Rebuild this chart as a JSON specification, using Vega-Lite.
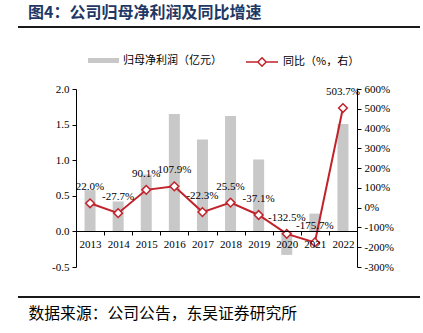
{
  "$schema": "https://vega.github.io/schema/vega-lite/v6.json",
  "width": 402,
  "height": 270,
  "autosize": {"type": "none"},
  "padding": {"left": 18, "top": 27, "right": 3, "bottom": 36},
  "background": "white",
  "view": {"stroke": "#1a1a1a", "strokeWidth": 2, "strokeDash": [402, 270]},
  "config": {
    "locale": {
      "number": {"decimal": ".", "thousands": ",", "grouping": [3], "currency": ["$", ""], "minus": "-"}
    },
    "axis": {"labelOverlap": false}
  },
  "title": {
    "text": "图4：公司归母净利润及同比增速",
    "anchor": "start",
    "frame": "group",
    "offset": 6,
    "dx": 10,
    "font": "Noto Sans CJK SC",
    "fontSize": 16,
    "fontWeight": "bold",
    "color": "#1f3864"
  },
  "data": {
    "values": [
      {"year": "2013", "profit": 0.58, "yoy": 0.220},
      {"year": "2014", "profit": 0.42, "yoy": -0.277},
      {"year": "2015", "profit": 0.80, "yoy": 0.901},
      {"year": "2016", "profit": 1.65, "yoy": 1.079},
      {"year": "2017", "profit": 1.29, "yoy": -0.223},
      {"year": "2018", "profit": 1.62, "yoy": 0.255},
      {"year": "2019", "profit": 1.01, "yoy": -0.371},
      {"year": "2020", "profit": -0.33, "yoy": -1.325},
      {"year": "2021", "profit": 0.25, "yoy": -1.757},
      {"year": "2022", "profit": 1.51, "yoy": 5.037}
    ]
  },
  "encoding": {
    "x": {
      "field": "year",
      "type": "ordinal",
      "scale": {"range": [58, 339], "paddingInner": 0, "paddingOuter": 0},
      "axis": {
        "title": "数据来源：公司公告，东吴证券研究所",
        "titleX": 10,
        "titleY": 82,
        "titleAlign": "left",
        "titleBaseline": "middle",
        "titleFont": "Noto Sans CJK SC",
        "titleFontSize": 15.8,
        "titleFontWeight": "normal",
        "titleColor": "#000000",
        "offset": -66,
        "tickBand": "extent",
        "labelAngle": 0,
        "labelFont": "Liberation Serif",
        "labelFontSize": 11,
        "labelColor": "#000000",
        "labelPadding": 3,
        "labelOverlap": false,
        "tickSize": 4,
        "tickColor": "#000000",
        "domainColor": "#000000",
        "grid": false,
        "zindex": 1
      }
    }
  },
  "layer": [
    {
      "mark": {"type": "bar", "size": 11},
      "encoding": {
        "y": {
          "field": "profit",
          "type": "quantitative",
          "scale": {"domain": [-0.5, 2], "range": [240, 62], "nice": false, "zero": false},
          "axis": {
            "orient": "left",
            "offset": -58,
            "title": null,
            "values": [-0.5, 0, 0.5, 1, 1.5, 2],
            "format": ".1f",
            "labelFont": "Liberation Serif",
            "labelFontSize": 11,
            "labelColor": "#000000",
            "labelPadding": 3,
            "labelOverlap": false,
            "tickSize": 4,
            "tickColor": "#000000",
            "domainColor": "#000000",
            "grid": false
          }
        },
        "fill": {
          "datum": "归母净利润（亿元）",
          "scale": {"range": ["#c8c8c8"]},
          "legend": {
            "orient": "none",
            "legendX": 70,
            "legendY": 18,
            "title": null,
            "padding": 0,
            "symbolType": "M-1,-0.16H1V0.16H-1Z",
            "symbolSize": 961,
            "symbolStrokeWidth": 0,
            "labelFont": "Noto Sans CJK SC",
            "labelFontSize": 11,
            "labelColor": "#000000",
            "labelOffset": 4
          }
        }
      }
    },
    {
      "encoding": {
        "y": {
          "field": "yoy",
          "type": "quantitative",
          "scale": {"domain": [-3, 6], "range": [240, 62], "nice": false, "zero": false},
          "axis": {
            "orient": "right",
            "offset": -63,
            "title": null,
            "values": [-3, -2, -1, 0, 1, 2, 3, 4, 5, 6],
            "format": ".0%",
            "labelFont": "Liberation Serif",
            "labelFontSize": 11,
            "labelColor": "#000000",
            "labelPadding": 3,
            "labelOverlap": false,
            "tickSize": 4,
            "tickColor": "#000000",
            "domainColor": "#000000",
            "grid": false
          }
        }
      },
      "layer": [
        {
          "mark": {"type": "line", "strokeWidth": 2},
          "encoding": {
            "stroke": {
              "datum": "同比（%，右）",
              "scale": {"range": ["#c0232b"]},
              "legend": {
                "orient": "none",
                "legendX": 227,
                "legendY": 18,
                "title": null,
                "padding": 0,
                "symbolType": "M-1,0H-0.26M0.26,0H1M0,-0.26L0.26,0L0,0.26L-0.26,0Z",
                "symbolSize": 1024,
                "symbolFillColor": "#ffffff",
                "symbolStrokeWidth": 1.5,
                "labelFont": "Noto Sans CJK SC",
                "labelFontSize": 11,
                "labelColor": "#000000",
                "labelOffset": 4
              }
            }
          }
        },
        {
          "mark": {"type": "point", "shape": "diamond", "filled": true, "fill": "#ffffff", "stroke": "#c0232b", "strokeWidth": 1.5, "size": 75, "opacity": 1}
        },
        {
          "mark": {"type": "text", "font": "Liberation Serif", "fontSize": 11, "color": "#000000", "baseline": "middle", "dy": -16},
          "encoding": {
            "text": {"field": "yoy", "type": "quantitative", "format": ".1%"}
          }
        }
      ]
    }
  ],
  "resolve": {"scale": {"y": "independent"}}
}
